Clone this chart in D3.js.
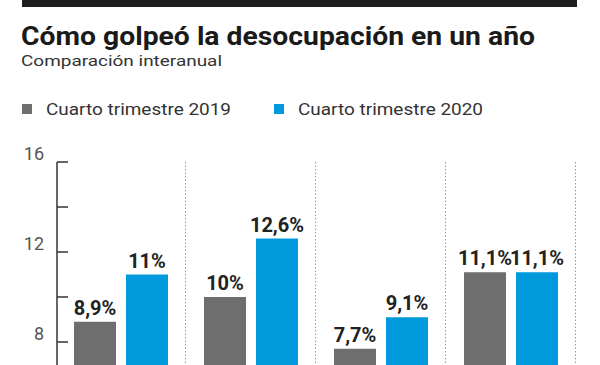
<!DOCTYPE html>
<html>
<head>
<meta charset="utf-8">
<script src="https://cdn.jsdelivr.net/npm/d3@7"></script>
<style>
  body { margin: 0; background: #fff; }
  svg { display: block; font-family: Roboto, "Noto Sans", sans-serif; }
</style>
</head>
<body>
<div id="chart"></div>
<script>
// datos (las categorias quedan fuera del recorte)
var categories = ["g1", "g2", "g3", "g4"];
var series = ["Cuarto trimestre 2019", "Cuarto trimestre 2020"];
var values2019 = [8.9, 10, 7.7, 11.1];
var values2020 = [11, 12.6, 9.1, 11.1];
var labels2019 = ["8,9%", "10%", "7,7%", "11,1%"];
var labels2020 = ["11%", "12,6%", "9,1%", "11,1%"];
var yTicks = [8, 10, 12, 14, 16];
var yTickLabels = ["8", "", "12", "", "16"];

var width = 600, height = 365;
var colors = ["#6e6e6e", "#0099dc"];

var svg = d3.select("#chart").append("svg")
    .attr("width", width)
    .attr("height", height);

// barra negra superior
svg.append("rect")
    .attr("x", 22).attr("y", 0)
    .attr("width", 555).attr("height", 7)
    .attr("fill", "#1e1e1e");

svg.append("text")
    .attr("x", 21).attr("y", 45)
    .attr("font-size", 25)
    .attr("font-weight", 700)
    .attr("fill", "#1a1a1a")
    .attr("textLength", 514)
    .attr("lengthAdjust", "spacingAndGlyphs")
    .text("Cómo golpeó la desocupación en un año");

svg.append("text")
    .attr("x", 21).attr("y", 66)
    .attr("font-size", 15.5)
    .attr("fill", "#333")
    .attr("textLength", 201)
    .attr("lengthAdjust", "spacingAndGlyphs")
    .text("Comparación interanual");

// leyenda
var legendX = [22, 274];
series.forEach(function(s, i) {
    svg.append("rect")
        .attr("x", legendX[i]).attr("y", 104)
        .attr("width", 10).attr("height", 10)
        .attr("fill", colors[i]);
    svg.append("text")
        .attr("x", legendX[i] + 24).attr("y", 115)
        .attr("font-size", 17)
        .attr("fill", "#333")
        .attr("textLength", 185)
        .attr("lengthAdjust", "spacingAndGlyphs")
        .text(s);
});

var y = d3.scaleLinear().domain([0, 16]).range([522, 162]);

var x0 = d3.scaleBand().domain(categories).range([57, 577]).paddingInner(0);
var x1 = d3.scaleBand().domain(series).range([17, 111]).paddingInner(10 / 52);

// eje y
var axis = svg.append("g");
axis.append("line")
    .attr("x1", 57).attr("x2", 57)
    .attr("y1", y(16)).attr("y2", height)
    .attr("stroke", "#333").attr("stroke-width", 1.5);
axis.selectAll("line.tick")
    .data(yTicks)
    .enter().append("line")
    .attr("class", "tick")
    .attr("x1", 57).attr("x2", 68)
    .attr("y1", function(d) { return y(d); })
    .attr("y2", function(d) { return y(d); })
    .attr("stroke", "#333").attr("stroke-width", 1.5);
axis.selectAll("text")
    .data(yTicks)
    .enter().append("text")
    .attr("x", 44)
    .attr("y", function(d) { return y(d) - 2; })
    .attr("text-anchor", "end")
    .attr("font-size", 18)
    .attr("fill", "#555")
    .text(function(d, i) { return yTickLabels[i]; });

// separadores punteados
svg.selectAll("line.sep")
    .data(categories)
    .enter().append("line")
    .attr("class", "sep")
    .attr("x1", function(d) { return x0(d) + x0.bandwidth() - 1.5; })
    .attr("x2", function(d) { return x0(d) + x0.bandwidth() - 1.5; })
    .attr("y1", y(16)).attr("y2", height)
    .attr("stroke", "#999").attr("stroke-width", 1)
    .attr("stroke-dasharray", "1.5,2");

// barras
var groups = svg.selectAll("g.grp")
    .data(categories)
    .enter().append("g")
    .attr("class", "grp")
    .attr("transform", function(d) { return "translate(" + x0(d) + ",0)"; });

var allValues = [values2019, values2020];
var allLabels = [labels2019, labels2020];

groups.each(function(c, ci) {
    var g = d3.select(this);
    series.forEach(function(s, si) {
        var v = allValues[si][ci];
        g.append("rect")
            .attr("x", x1(s))
            .attr("y", y(v))
            .attr("width", x1.bandwidth())
            .attr("height", y(0) - y(v))
            .attr("fill", colors[si]);
        g.append("text")
            .attr("x", x1(s) + x1.bandwidth() / 2)
            .attr("y", y(v) - 7)
            .attr("text-anchor", "middle")
            .attr("font-size", 20)
            .attr("font-weight", 700)
            .attr("fill", "#222")
            .text(allLabels[si][ci]);
    });
});
</script>
</body>
</html>
